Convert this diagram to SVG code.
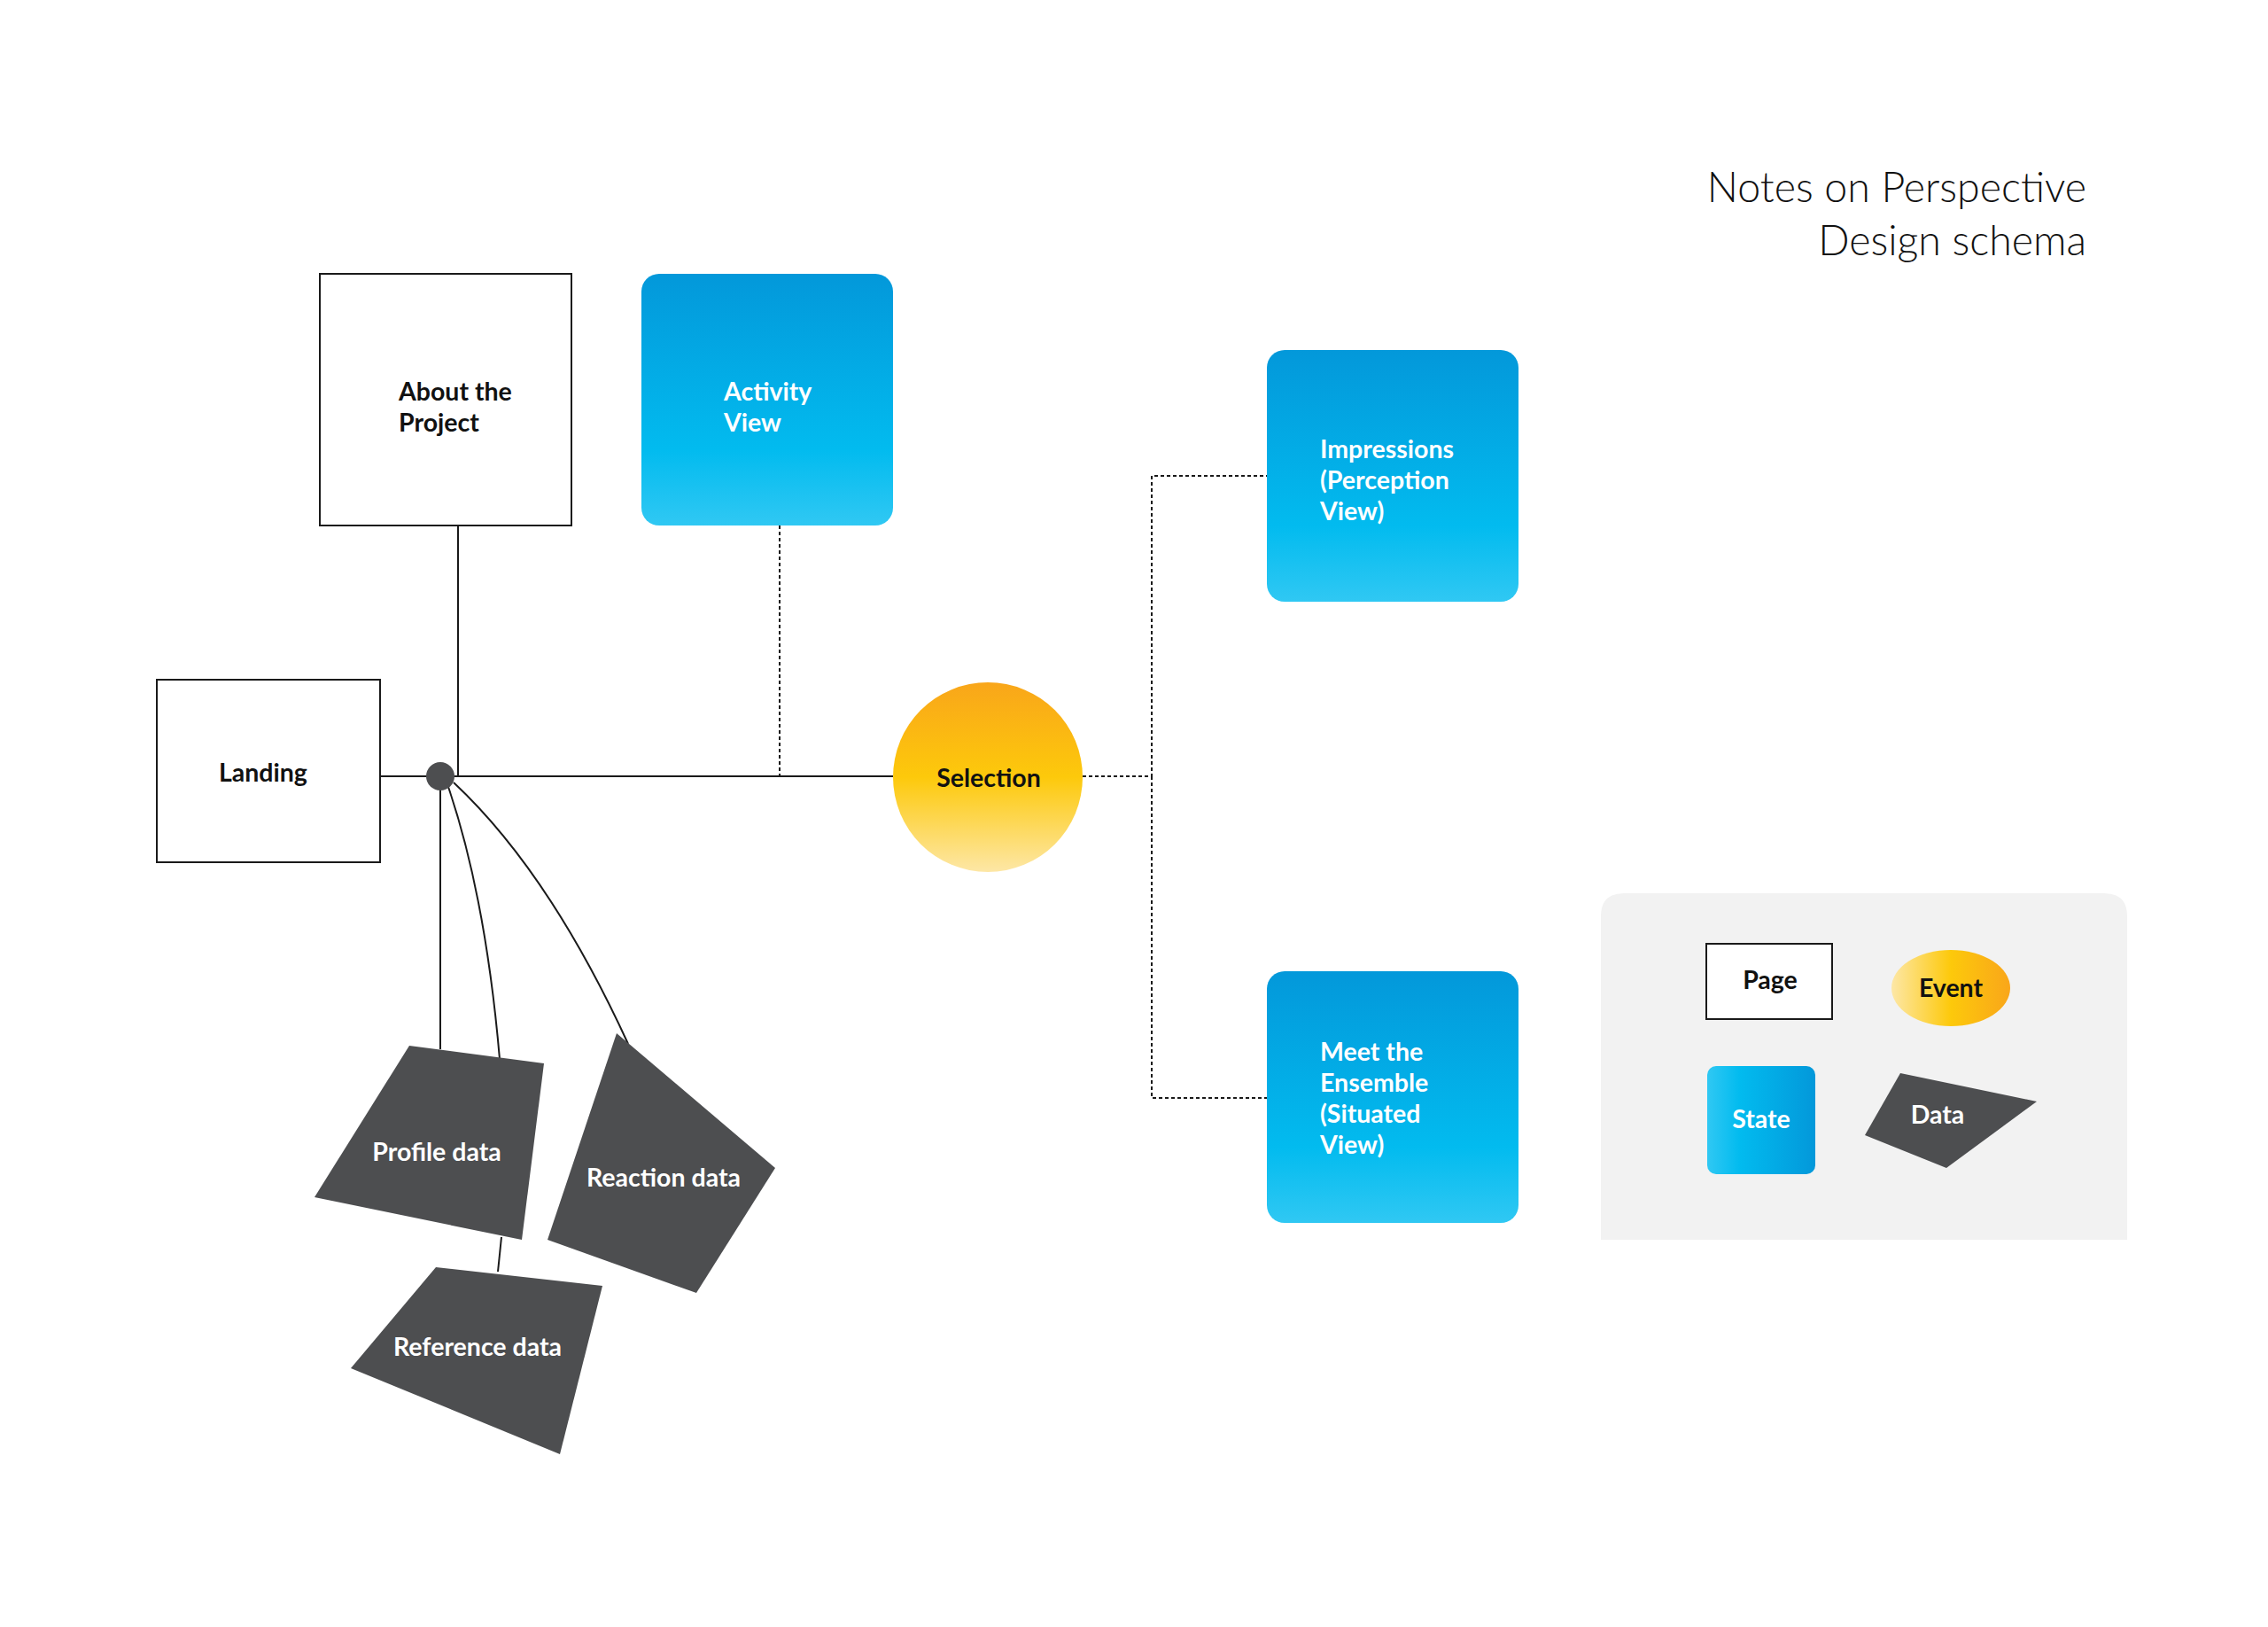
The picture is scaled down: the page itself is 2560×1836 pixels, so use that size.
<svg xmlns="http://www.w3.org/2000/svg" width="2560" height="1836" viewBox="0 0 2560 1836">
<defs>
<linearGradient id="gBlue" x1="0" y1="0" x2="0" y2="1">
<stop offset="0" stop-color="#0398da"/><stop offset="0.7" stop-color="#02bbef"/><stop offset="1" stop-color="#30c8f3"/>
</linearGradient>
<linearGradient id="gBlueH" x1="1" y1="0" x2="0" y2="0">
<stop offset="0" stop-color="#0398da"/><stop offset="0.7" stop-color="#02bbef"/><stop offset="1" stop-color="#30c8f3"/>
</linearGradient>
<linearGradient id="gSel" x1="0" y1="0" x2="0" y2="1">
<stop offset="0" stop-color="#f9a61a"/><stop offset="0.5" stop-color="#fdc90b"/><stop offset="1" stop-color="#fde7a6"/>
</linearGradient>
<linearGradient id="gEvt" x1="1" y1="0" x2="0" y2="0">
<stop offset="0" stop-color="#f9a61a"/><stop offset="0.5" stop-color="#fdc90b"/><stop offset="1" stop-color="#fde7a6"/>
</linearGradient>
</defs>
<style>
.page{fill:#fff;stroke:#1a1a1a;stroke-width:2}
.state{fill:url(#gBlue)}
.data{fill:#4d4e50}
.t{font-family:"Lato","Liberation Sans",sans-serif;font-weight:700;font-size:28.5px}
.dk{fill:#111}
.wt{fill:#fff}
.ln{fill:none;stroke:#1a1a1a;stroke-width:2}
.dt{fill:none;stroke:#1a1a1a;stroke-width:2;stroke-dasharray:4 3}
.title{font-family:"Lato","Liberation Sans",sans-serif;font-weight:300;font-size:46.5px;fill:#111}
</style>
<rect width="2560" height="1836" fill="#fff"/>
<g id="title">
<text class="title" x="2355" y="228" text-anchor="end">Notes on Perspective</text>
<text class="title" x="2355" y="288" text-anchor="end">Design schema</text>
</g>
<g id="connectors">
<line class="ln" x1="429" y1="876" x2="1008" y2="876"/>
<line class="ln" x1="517" y1="593" x2="517" y2="876"/>
<line class="dt" x1="880" y1="593" x2="880" y2="876"/>
<line class="ln" x1="497" y1="876" x2="497" y2="1184"/>
<path class="ln" d="M505,885 Q548,1010 564,1195"/>
<path class="ln" d="M512,883 Q620,984 709,1178"/>
<line class="ln" x1="566" y1="1396" x2="562" y2="1435"/>
<polyline class="dt" points="1222,876 1300,876 1300,537 1430,537"/>
<polyline class="dt" points="1300,876 1300,1239 1430,1239"/>
<circle cx="497" cy="876" r="16" fill="#4d4e50"/>
</g>
<g id="about">
<rect class="page" x="361" y="309" width="284" height="284"/>
<text class="t dk" x="450" y="452">About the</text>
<text class="t dk" x="450" y="487">Project</text>
</g>
<g id="activity">
<rect class="state" x="724" y="309" width="284" height="284" rx="20"/>
<text class="t wt" x="817" y="452">Activity</text>
<text class="t wt" x="817" y="487">View</text>
</g>
<g id="landing">
<rect class="page" x="177" y="767" width="252" height="206"/>
<text class="t dk" x="247" y="882">Landing</text>
</g>
<g id="selection">
<circle cx="1115" cy="877" r="107" fill="url(#gSel)"/>
<text class="t dk" x="1116" y="888" text-anchor="middle">Selection</text>
</g>
<g id="impressions">
<rect class="state" x="1430" y="395" width="284" height="284" rx="20"/>
<text class="t wt" x="1490" y="517">Impressions</text>
<text class="t wt" x="1490" y="552">(Perception</text>
<text class="t wt" x="1490" y="587">View)</text>
</g>
<g id="meet">
<rect class="state" x="1430" y="1096" width="284" height="284" rx="20"/>
<text class="t wt" x="1490" y="1197">Meet the</text>
<text class="t wt" x="1490" y="1232">Ensemble</text>
<text class="t wt" x="1490" y="1267">(Situated</text>
<text class="t wt" x="1490" y="1302">View)</text>
</g>
<g id="profile">
<polygon class="data" points="462,1180 614,1200 589,1399 355,1351"/>
<text class="t wt" x="493" y="1310" text-anchor="middle">Profile data</text>
</g>
<g id="reaction">
<polygon class="data" points="696,1166 875,1318 786,1459 618,1399"/>
<text class="t wt" x="749" y="1339" text-anchor="middle">Reaction data</text>
</g>
<g id="reference">
<polygon class="data" points="492,1430 680,1451 632,1641 396,1544"/>
<text class="t wt" x="539" y="1530" text-anchor="middle">Reference data</text>
</g>
<g id="legend">
<path d="M1807,1399 V1034 Q1807,1008 1833,1008 H2375 Q2401,1008 2401,1034 V1399 Z" fill="#f2f2f2"/>
<g id="legend-page">
<rect class="page" x="1926" y="1065" width="142" height="85"/>
<text class="t dk" x="1998" y="1116" text-anchor="middle">Page</text>
</g>
<g id="legend-event">
<ellipse cx="2202" cy="1115" rx="67" ry="43" fill="url(#gEvt)"/>
<text class="t dk" x="2202" y="1125" text-anchor="middle">Event</text>
</g>
<g id="legend-state">
<rect x="1927" y="1203" width="122" height="122" rx="10" fill="url(#gBlueH)"/>
<text class="t wt" x="1988" y="1273" text-anchor="middle">State</text>
</g>
<g id="legend-data">
<polygon class="data" points="2145,1211 2299,1243 2197,1318 2105,1281"/>
<text class="t wt" x="2187" y="1268" text-anchor="middle">Data</text>
</g>
</g>
</svg>
